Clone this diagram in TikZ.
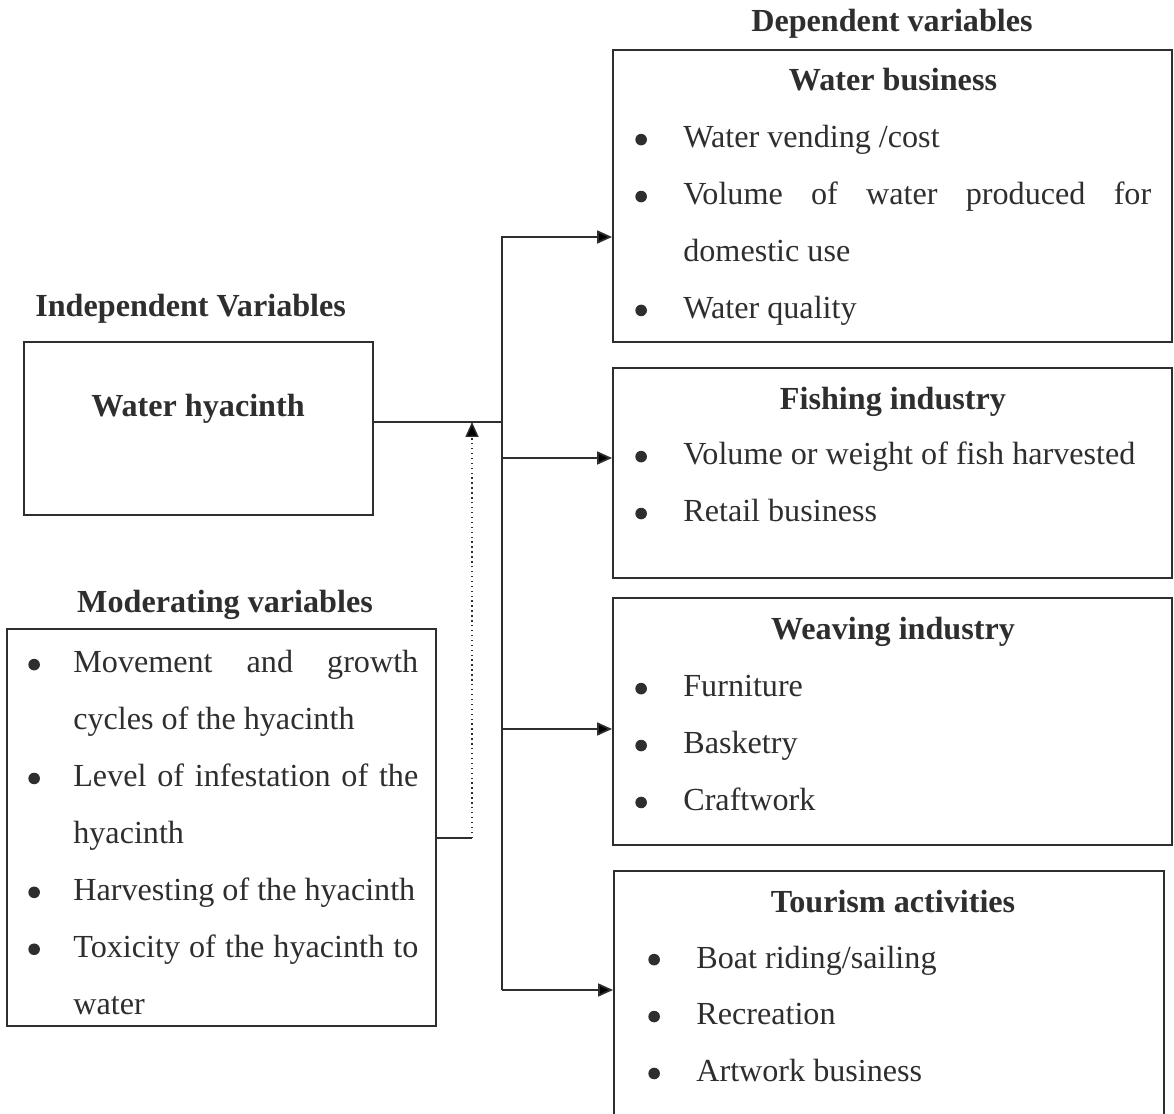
\documentclass[tikz,border=0pt]{standalone}
\usepackage{fontspec}
\setmainfont{Liberation Serif}
\usetikzlibrary{arrows.meta, positioning, fit}
\definecolor{ink}{HTML}{2E2E2E}
\newlength{\bhang}
\newcommand{\bdot}{\tikz[baseline=0pt]\fill[ink] (0.2em,0.26em) circle (0.18em);}
\newcommand{\bitem}[1]{\noindent\hangindent=\bhang\hangafter=1\makebox[\bhang][l]{\bdot}#1\par}
\newcommand{\bodysize}{\fontsize{18.3pt}{32.4pt}\selectfont}

\tikzset{
  box/.style={draw=ink, line width=1.1pt, inner sep=0pt},
  head/.style={font=\bodysize\bfseries, text=ink, inner sep=0pt},
  items/.style={text=ink, inner sep=0pt, anchor=base west, align=justify,
    text width=#1, font=\bodysize,
    execute at begin node={\parskip=0pt\hyphenpenalty=10000}},
  bhang/.code={\setlength{\bhang}{#1}},
  conn/.style={draw=ink, line width=1pt},
  arr/.style={conn, -{Triangle[length=8.5pt, width=7.4pt]}},
  dotarr/.style={draw=ink, line width=0.8pt, dotted, -{Triangle[length=8.5pt, width=7.4pt]}}
}

\begin{document}
\begin{tikzpicture}[x=0.02cm, y=-0.02cm]
  \clip (0,0) rectangle (1174,1114);

  % Independent side
  \node[head, anchor=base west] (indep) at (35,317) {Independent Variables};
  \node[box, fit={(24,342) (373,515)}] (hyac) {};
  \node[head, anchor=base] (hyactxt) at (198,417) {Water hyacinth};

  % Moderating side
  \node[head, anchor=base] (modhead) at (225,613) {Moderating variables};
  \node[box, fit={(7,629) (436,1026)}] (modbox) {};
  \node[items=7.8cm, bhang=0.9cm] (modlist) at (28,673) {%
    \bitem{Movement and growth\linebreak cycles of the hyacinth}%
    \bitem{Level of infestation of the\linebreak hyacinth}%
    \bitem{Harvesting of the hyacinth}%
    \bitem{Toxicity of the hyacinth to\linebreak water}};

  % Dependent side
  \node[head, anchor=base] (dephead) at (892,32) {Dependent variables};

  \node[box, fit={(613,50) (1172,342)}] (water) {};
  \node[head, anchor=base] (watertxt) at (893,91) {Water business};
  \node[items=10.32cm, bhang=0.96cm] (waterlist) at (635,148) {%
    \bitem{Water vending /cost}%
    \bitem{Volume of water produced for\linebreak domestic use}%
    \bitem{Water quality}};

  \node[box, fit={(613,368) (1172,578)}] (fish) {};
  \node[head, anchor=base] (fishtxt) at (893,410) {Fishing industry};
  \node[items=10.32cm, bhang=0.96cm] (fishlist) at (635,465) {%
    \bitem{Volume or weight of fish harvested}%
    \bitem{Retail business}};

  \node[box, fit={(613,598) (1172,845)}] (weave) {};
  \node[head, anchor=base] (weavetxt) at (893,640) {Weaving industry};
  \node[items=10.32cm, bhang=0.96cm] (weavelist) at (635,697) {%
    \bitem{Furniture}%
    \bitem{Basketry}%
    \bitem{Craftwork}};

  \node[box, fit={(614,871) (1164,1140)}] (tour) {};
  \node[head, anchor=base] (tourtxt) at (893,912) {Tourism activities};
  \node[items=9cm, bhang=0.96cm] (tourlist) at (648,968) {%
    \bitem{Boat riding/sailing}%
    \bitem{Recreation}%
    \bitem{Artwork business}};

  % connectors
  \coordinate (join) at (502,422);
  \coordinate (ttop) at (502,237);
  \coordinate (tfish) at (502,458);
  \coordinate (tweave) at (502,729);
  \coordinate (ttour) at (502,990);
  \coordinate (dot) at (472,838);
  \draw[conn] (hyac.east |- join) -- (join);
  \draw[arr] (ttour) -- (ttop) -- (ttop -| water.west);
  \foreach \b in {fish,weave,tour}
    \draw[arr] (t\b) -- (t\b -| \b.west);
  \draw[conn] (modbox.east |- dot) -- (dot);
  \draw[dotarr] (dot) -- (dot |- join);
\end{tikzpicture}
\end{document}
